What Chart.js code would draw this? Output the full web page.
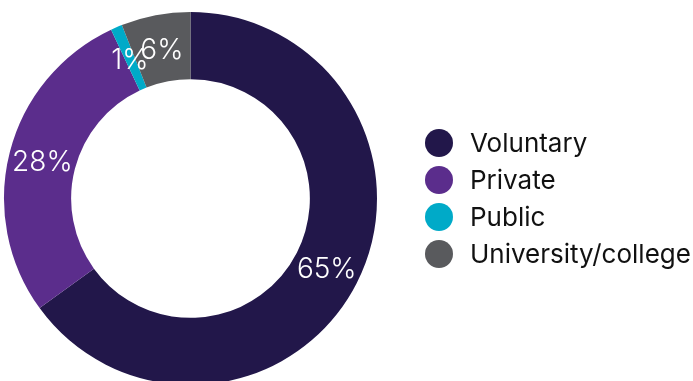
<!DOCTYPE html>
<html>
<head>
<meta charset="utf-8">
<script src="https://cdn.jsdelivr.net/npm/chart.js@4.4.1/dist/chart.umd.min.js"></script>
<style>
  html, body { margin: 0; padding: 0; background: #fff; overflow: hidden; }
  #wrap { position: absolute; left: 0; top: 0; width: 693px; height: 397px; }
</style>
</head>
<body>
<div id="wrap"><canvas id="chart"></canvas></div>
<script>
const categories = ['Voluntary', 'Private', 'Public', 'University/college'];
const shares = [65, 28, 1, 6];
const sliceColors = ['#22174a', '#5b2d8c', '#00aac8', '#595a5d'];

const FONT = 'Inter, Lato, sans-serif';

// white % labels sitting in the middle of each ring slice
const sliceLabels = {
  id: 'sliceLabels',
  afterDatasetsDraw(chart) {
    const ctx = chart.ctx;
    const meta = chart.getDatasetMeta(0);
    ctx.save();
    ctx.fillStyle = '#ffffff';
    ctx.font = '300 28px ' + FONT;
    ctx.textAlign = 'center';
    ctx.textBaseline = 'middle';
    meta.data.forEach((arc, i) => {
      const p = arc.tooltipPosition();
      ctx.fillText(shares[i] + '%', p.x, p.y + 2);
    });
    ctx.restore();
  }
};

// legend on the right: dot + name, one per row
const sideLegend = {
  id: 'sideLegend',
  afterDraw(chart) {
    const ctx = chart.ctx;
    const ds = chart.data.datasets[0];
    const midY = (chart.chartArea.top + chart.chartArea.bottom) / 2;
    const rowGap = 37;
    ctx.save();
    ctx.font = '26px ' + FONT;
    ctx.textBaseline = 'middle';
    ctx.textAlign = 'left';
    chart.data.labels.forEach((name, i) => {
      const y = midY + (i - (chart.data.labels.length - 1) / 2) * rowGap;
      ctx.beginPath();
      ctx.arc(439, y, 14, 0, Math.PI * 2);
      ctx.fillStyle = ds.backgroundColor[i];
      ctx.fill();
      ctx.fillStyle = '#111111';
      ctx.fillText(name, 470, y + 1);
    });
    ctx.restore();
  }
};

new Chart(document.getElementById('chart'), {
  type: 'doughnut',
  data: {
    labels: categories,
    datasets: [{
      data: shares,
      backgroundColor: sliceColors,
      borderWidth: 0
    }]
  },
  options: {
    responsive: true,
    maintainAspectRatio: false,
    animation: false,
    cutout: '64%',
    layout: { padding: { left: 4, top: 12, right: 316, bottom: 12 } },
    plugins: {
      legend: { display: false },
      tooltip: { enabled: false }
    }
  },
  plugins: [sliceLabels, sideLegend]
});
</script>
</body>
</html>
